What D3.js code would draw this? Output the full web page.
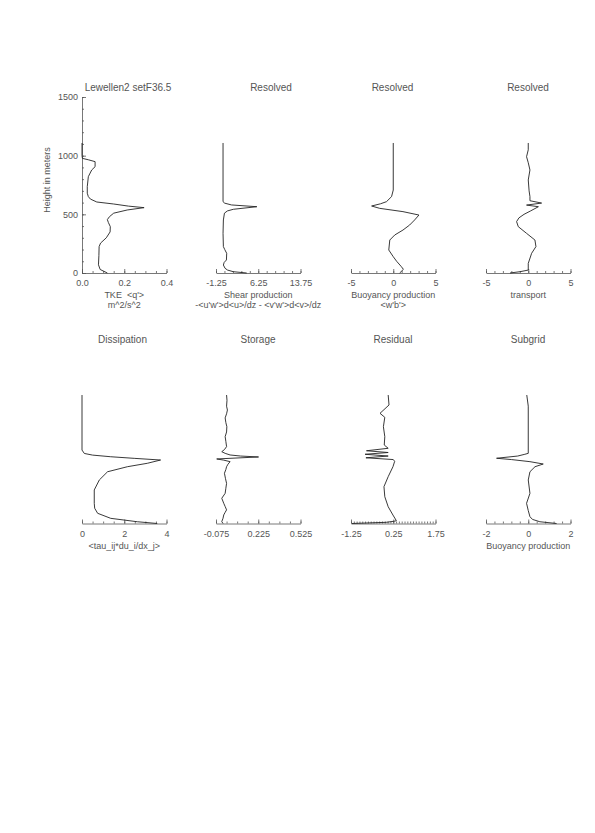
<!DOCTYPE html>
<html><head><meta charset="utf-8">
<script src="https://cdn.jsdelivr.net/npm/d3@7"></script>
<style>
html,body{margin:0;padding:0;background:#fff;}
svg text{font-family:"Liberation Sans",Arial,sans-serif;fill:#555;white-space:pre;}
</style></head>
<body><svg id="c" width="595" height="833"></svg>
<script>
// ---- data: [height (m), value] ----
const tke = [[0,0.12],[30,0.086],[70,0.078],[150,0.08],[225,0.081],[255,0.088],[300,0.115],[350,0.133],[395,0.134],[430,0.125],[455,0.12],[480,0.13],[510,0.15],[537,0.214],[557,0.294],[570,0.22],[588,0.15],[605,0.07],[630,0.04],[651,0.03],[680,0.025],[736,0.025],[821,0.03],[878,0.046],[906,0.062],[949,0.062],[965,0.03],[977,0.002],[1000,0],[1108,0]];
const shear = [[0,4.2],[11,1.83],[25,0.8],[40,0.36],[68,0.06],[90,0.2],[111,0.6],[168,0.65],[200,0.3],[225,0.06],[338,0],[452,0.06],[510,0.25],[529,0.77],[543,1.83],[565,6.0],[580,1.5],[595,0.3],[608,0],[1108,0]];
const buoyRes = [[0,0.76],[31,1.2],[54,0.96],[100,0.4],[139,0],[196,-0.53],[281,-0.41],[324,0.18],[366,1.15],[409,1.94],[452,2.53],[494,3.04],[523,1.15],[551,-1.6],[571,-2.56],[590,-1.5],[608,-0.8],[651,-0.2],[707,0],[1108,0]];
const transport = [[0,-2.16],[11,-0.98],[25,0],[82,0],[168,0.4],[225,0.91],[281,0.79],[338,-0.2],[395,-1.18],[438,-1.38],[470,-1.1],[500,-0.5],[530,0.3],[565,1.2],[579,-0.2],[596,1.58],[616,0.2],[651,0.2],[700,0.1],[793,0],[878,0.2],[940,0],[991,-0.2],[1050,0],[1108,0]];
const dissipation = [[0,3.56],[15,2.62],[44,1.36],[87,0.74],[130,0.6],[172,0.58],[286,0.58],[371,0.82],[441,1.21],[484,2.15],[513,3.09],[541,3.72],[555,2.5],[569,1.36],[583,0.5],[597,0.11],[626,0],[1095,0]];
const storage = [[0,-0.025],[16,-0.034],[45,-0.025],[73,-0.02],[95,-0.01],[116,0],[145,-0.01],[172,-0.02],[215,-0.034],[257,-0.01],[300,-0.005],[342,0],[385,-0.008],[428,-0.015],[460,-0.005],[484,0],[505,0.01],[527,0.025],[540,-0.02],[550,-0.07],[567,0.227],[575,0.1],[584,0.025],[598,-0.01],[612,-0.034],[630,-0.015],[655,0],[700,-0.005],[740,-0.01],[780,0],[825,0.002],[860,-0.005],[900,-0.01],[935,0],[967,0.006],[1000,0],[1050,0.003],[1095,0]];
const residual = [[0,-1.22],[10,0.0],[20,0.3],[24,0.36],[72,0.24],[143,0.07],[228,-0.05],[314,-0.08],[399,0.07],[484,0.24],[530,0.3],[545,0.25],[560,-0.72],[575,0.07],[590,-0.75],[605,0.07],[620,-0.7],[641,0.07],[669,-0.07],[740,-0.05],[825,-0.1],[905,-0.05],[939,-0.22],[1010,0.1],[1095,0.07]];
const subgrid = [[0,1.34],[15,0.55],[35,0.2],[58,0.08],[110,0],[172,-0.08],[257,0.08],[371,0],[441,0.08],[484,0.32],[507,0.71],[527,0.08],[545,-0.8],[556,-1.5],[575,-0.5],[590,-0.16],[598,0],[1000,0],[1095,-0.07]];

// ---- axis tick labels / titles ----
const titles = ["Lewellen2 setF36.5","Resolved","Resolved","Resolved","Dissipation","Storage","Residual","Subgrid"];
const majorTicks = [[0.0,0.2,0.4],[-1.25,6.25,13.75],[-5,0,5],[-5,0,5],[0,2,4],[-0.075,0.225,0.525],[-1.25,0.25,1.75],[-2,0,2]];
const tickLabels = [["0.0","0.2","0.4"],["-1.25","6.25","13.75"],["-5","0","5"],["-5","0","5"],["0","2","4"],["-0.075","0.225","0.525"],["-1.25","0.25","1.75"],["-2","0","2"]];
const minorDivs = [4,5,5,5,4,4,15,5];
const xLabels = [["TKE  <q'>","m^2/s^2"],["Shear production","-<u'w'>d<u>/dz - <v'w'>d<v>/dz"],["Buoyancy production","<w'b'>"],["transport"],["<tau_ij*du_i/dx_j>"],[],[],["Buoyancy production"]];
const heightTicks = [0,500,1000,1500];
const series = [tke,shear,buoyRes,transport,dissipation,storage,residual,subgrid];

// ---- layout ----
const svg = d3.select("#c");
const colX = [82,216,351,486];
const panelW = 84.5;
const rowY = [273,523.5];
const plotH = 176;
const titleX = [128,271,392.5,528,122.5,258,393,528];
const titleY = [90.5,342.5];

series.forEach((data,i)=>{
  const col = i%4, row = Math.floor(i/4);
  const x0 = colX[col], ay = rowY[row];
  const mt = majorTicks[i];
  const x = d3.scaleLinear().domain([mt[0],mt[mt.length-1]]).range([x0,x0+panelW]);
  const y = d3.scaleLinear().domain([0,1500]).range([ay,ay-plotH]);
  const g = svg.append("g");
  const step = (mt[1]-mt[0])/minorDivs[i];
  const nMinor = Math.round((mt[mt.length-1]-mt[0])/step);
  const minors = d3.range(nMinor+1).map(k=>mt[0]+k*step);
  const minorAxis = d3.axisBottom(x).tickValues(minors).tickSize(-2).tickSizeOuter(0).tickFormat("");
  const ga = g.append("g").attr("transform",`translate(0,${ay})`).call(minorAxis);
  const majorAxis = d3.axisBottom(x).tickValues(mt).tickSize(-4).tickSizeOuter(0).tickPadding(7)
     .tickFormat((d,k)=>tickLabels[i][k]);
  const gm = g.append("g").attr("transform",`translate(0,${ay})`).call(majorAxis);
  gm.select(".domain").remove();
  [ga,gm].forEach(s=>{s.selectAll("path,line").attr("stroke","#555").attr("stroke-width",0.8);});
  gm.selectAll("text").attr("font-size",9).attr("fill","#555").attr("font-family","Liberation Sans, Arial, sans-serif");
  xLabels[i].forEach((t,k)=>{
    g.append("text").attr("x",x0+panelW/2).attr("y",ay+25+k*9.5).attr("text-anchor","middle").attr("font-size",9).text(t);
  });
  g.append("text").attr("x",titleX[i]).attr("y",titleY[row]).attr("text-anchor","middle").attr("font-size",10).text(titles[i]);
  if(i===0){
    const yMin = d3.axisLeft(y).tickValues(d3.range(0,1501,100)).tickSize(-2).tickSizeOuter(0).tickFormat("");
    const gy = g.append("g").attr("transform",`translate(${x0},0)`).call(yMin);
    const yMaj = d3.axisLeft(y).tickValues(heightTicks).tickSize(-4).tickSizeOuter(0).tickPadding(4).tickFormat(d3.format("d"));
    const gy2 = g.append("g").attr("transform",`translate(${x0},0)`).call(yMaj);
    gy2.select(".domain").remove();
    [gy,gy2].forEach(s=>{s.selectAll("path,line").attr("stroke","#555").attr("stroke-width",0.8);});
    gy2.selectAll("text").attr("font-size",9).attr("fill","#555").attr("font-family","Liberation Sans, Arial, sans-serif");
    g.append("text").attr("transform",`translate(50,${ay-plotH/2-5}) rotate(-90)`).attr("text-anchor","middle").attr("font-size",9).text("Height in meters");
  }
  const line = d3.line().x(d=>x(d[1])).y(d=>y(d[0]));
  g.append("path").datum(data).attr("d",line).attr("fill","none").attr("stroke","#222").attr("stroke-width",0.9);
});
</script></body></html>
